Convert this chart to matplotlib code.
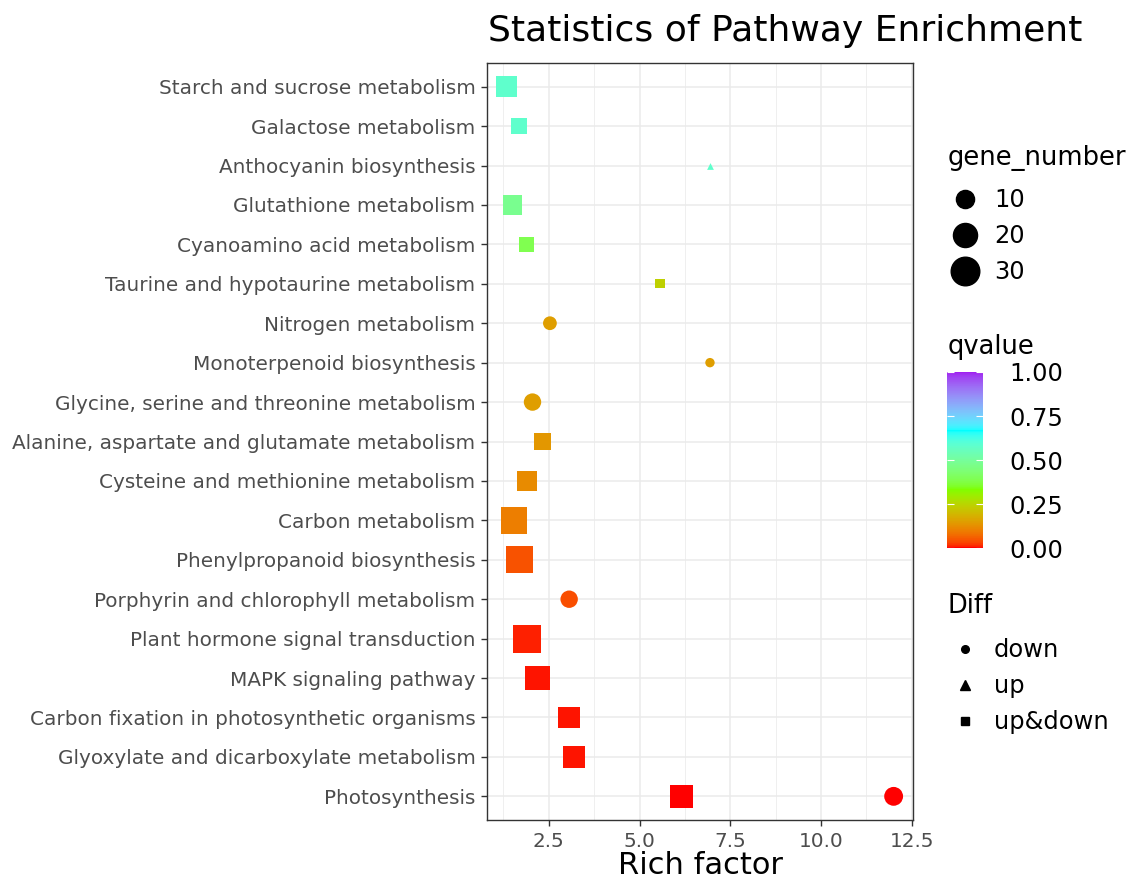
import numpy as np
import matplotlib
matplotlib.use("Agg")
import matplotlib.pyplot as plt
from matplotlib.colors import LinearSegmentedColormap, Normalize, to_rgb
from matplotlib.lines import Line2D
from matplotlib.ticker import MultipleLocator

# pathways, top to bottom
pathways = [
    "Starch and sucrose metabolism",
    "Galactose metabolism",
    "Anthocyanin biosynthesis",
    "Glutathione metabolism",
    "Cyanoamino acid metabolism",
    "Taurine and hypotaurine metabolism",
    "Nitrogen metabolism",
    "Monoterpenoid biosynthesis",
    "Glycine, serine and threonine metabolism",
    "Alanine, aspartate and glutamate metabolism",
    "Cysteine and methionine metabolism",
    "Carbon metabolism",
    "Phenylpropanoid biosynthesis",
    "Porphyrin and chlorophyll metabolism",
    "Plant hormone signal transduction",
    "MAPK signaling pathway",
    "Carbon fixation in photosynthetic organisms",
    "Glyoxylate and dicarboxylate metabolism",
    "Photosynthesis",
]

# one entry per point
point_pathway = pathways + ["Photosynthesis"]
rich_factor = [1.33, 1.67, 6.94, 1.50, 1.89, 5.56, 2.53, 6.94, 2.05, 2.33,
               1.90, 1.54, 1.70, 3.06, 1.90, 2.19, 3.05, 3.19, 6.16, 12.0]
gene_number = [15, 7, 1, 12, 6, 2, 5, 2, 9, 8,
               13, 25, 26, 9, 28, 21, 16, 16, 19, 11]
qvalue = [0.58, 0.58, 0.58, 0.48, 0.39, 0.24, 0.15, 0.15, 0.15, 0.14,
          0.12, 0.10, 0.045, 0.04, 0.01, 0.005, 0.005, 0.005, 0.0, 0.0]
diff = ["up&down", "up&down", "up", "up&down", "up&down", "up&down", "down",
        "down", "down", "up&down", "up&down", "up&down", "up&down", "down",
        "up&down", "up&down", "up&down", "up&down", "up&down", "down"]

shapes = {"down": "o", "up": "^", "up&down": "s"}
size_breaks = [10, 20, 30]


def _to_lab(rgb):
    c = np.asarray(rgb, float)
    lin = np.where(c <= 0.04045, c / 12.92, ((c + 0.055) / 1.055) ** 2.4)
    m = np.array([[0.4124, 0.3576, 0.1805], [0.2126, 0.7152, 0.0722],
                  [0.0193, 0.1192, 0.9505]])
    xyz = lin @ m.T / np.array([0.95047, 1.0, 1.08883])
    f = np.where(xyz > (6 / 29) ** 3, np.cbrt(xyz), xyz / (3 * (6 / 29) ** 2) + 4 / 29)
    return np.stack([116 * f[..., 1] - 16, 500 * (f[..., 0] - f[..., 1]),
                     200 * (f[..., 1] - f[..., 2])], -1)


def _from_lab(lab):
    fy = (lab[..., 0] + 16) / 116
    f = np.stack([fy + lab[..., 1] / 500, fy, fy - lab[..., 2] / 200], -1)
    xyz = np.where(f > 6 / 29, f ** 3, 3 * (6 / 29) ** 2 * (f - 4 / 29))
    xyz = xyz * np.array([0.95047, 1.0, 1.08883])
    m = np.array([[3.2406, -1.5372, -0.4986], [-0.9689, 1.8758, 0.0415],
                  [0.0557, -0.2040, 1.0570]])
    lin = np.clip(xyz @ m.T, 0, 1)
    return np.where(lin <= 0.0031308, 12.92 * lin, 1.055 * lin ** (1 / 2.4) - 0.055)


# gradient red -> chartreuse -> cyan -> purple, interpolated in Lab like ggplot
stops = ["#FF0000", "#7FFF00", "#00FFFF", "#A020F0"]
lab = _to_lab([to_rgb(c) for c in stops])
t = np.linspace(0, 1, 256)
pos = np.linspace(0, 1, len(stops))
lab_t = np.stack([np.interp(t, pos, lab[:, k]) for k in range(3)], -1)
cmap = LinearSegmentedColormap.from_list("qv", np.clip(_from_lab(lab_t), 0, 1))
norm = Normalize(0, 1)

DPI = 100
gmin, gmax = 1, 31


def diam_pt(g):
    # marker diameter in points for a gene count
    g = np.asarray(g, float)
    px = 5 + 24 * np.sqrt((g - gmin) / (gmax - gmin))
    return px * 72 / DPI


fig = plt.figure(figsize=(11.3, 8.8), dpi=DPI)
ax = fig.add_axes([487 / 1130, 1 - 820 / 880, 426 / 1130, 757 / 880])

ypos = {p: len(pathways) - 1 - i for i, p in enumerate(pathways)}
y = np.array([ypos[p] for p in point_pathway])
x = np.array(rich_factor)
d = diam_pt(gene_number)
cols = cmap(norm(qvalue))
for kind, mk in shapes.items():
    idx = [i for i, k in enumerate(diff) if k == kind]
    scale = 1.35 if mk == "^" else 1.0
    ax.scatter(x[idx], y[idx], s=(d[idx] * scale) ** 2, c=cols[idx],
               marker=mk, linewidths=0, zorder=3)

span = x.max() - x.min()
ax.set_xlim(x.min() - 0.05 * span, x.max() + 0.05 * span)
ax.set_ylim(-0.6, len(pathways) - 0.4)
ax.set_yticks(range(len(pathways)))
ax.set_yticklabels(pathways[::-1])
ax.xaxis.set_major_locator(MultipleLocator(2.5))
ax.xaxis.set_minor_locator(MultipleLocator(1.25))
ax.tick_params(axis="both", which="major", labelsize=14.4, labelcolor="#4D4D4D",
               color="#333333", length=4.3, width=1.0, pad=4)
ax.tick_params(axis="x", which="minor", length=0)
ax.grid(which="major", color="#EBEBEB", linewidth=1.1)
ax.grid(which="minor", axis="x", color="#EBEBEB", linewidth=0.55)
ax.set_axisbelow(True)
for sp in ax.spines.values():
    sp.set_color("#333333")
    sp.set_linewidth(1.0)
ax.set_xlabel("Rich factor", fontsize=22, labelpad=0)

fig.text(785 / 1130, 1 - 31 / 880, "Statistics of Pathway Enrichment",
         fontsize=26, ha="center", va="center")

leg_kw = dict(loc="upper left", frameon=False, fontsize=17.4,
              handlelength=1.4, handletextpad=0.5,
              labelspacing=0.5, borderpad=0, borderaxespad=0)

# gene_number legend
size_handles = [Line2D([], [], marker="o", linestyle="", color="black",
                       markersize=float(diam_pt(b))) for b in size_breaks]
fig.legend(size_handles, [str(b) for b in size_breaks],
           bbox_to_anchor=(948 / 1130, 1 - 188 / 880), **leg_kw)
fig.text(948 / 1130, 1 - 158 / 880, "gene_number", fontsize=18.5, ha="left", va="center")

# Diff legend
diff_handles = [Line2D([], [], marker=mk, linestyle="", color="black",
                       markersize=5.5 * (1.3 if mk == "^" else 1.0))
                for mk in shapes.values()]
fig.legend(diff_handles, list(shapes.keys()),
           bbox_to_anchor=(948 / 1130, 1 - 638 / 880), **leg_kw)
fig.text(948 / 1130, 1 - 606 / 880, "Diff", fontsize=18.5, ha="left", va="center")

# qvalue colour bar
cax = fig.add_axes([947 / 1130, 1 - 548 / 880, 36 / 1130, 176 / 880])
cb = fig.colorbar(plt.cm.ScalarMappable(norm=norm, cmap=cmap), cax=cax,
                  ticks=[0, 0.25, 0.5, 0.75, 1.0])
cb.ax.set_yticklabels(["0.00", "0.25", "0.50", "0.75", "1.00"])
cb.outline.set_visible(False)
cb.ax.tick_params(direction="in", color="white", length=5, width=0.8,
                  labelsize=17.4, pad=19, left=True)
fig.text(948 / 1130, 1 - 347 / 880, "qvalue", fontsize=18.5, ha="left", va="center")

fig.savefig("out.png", dpi=DPI)
